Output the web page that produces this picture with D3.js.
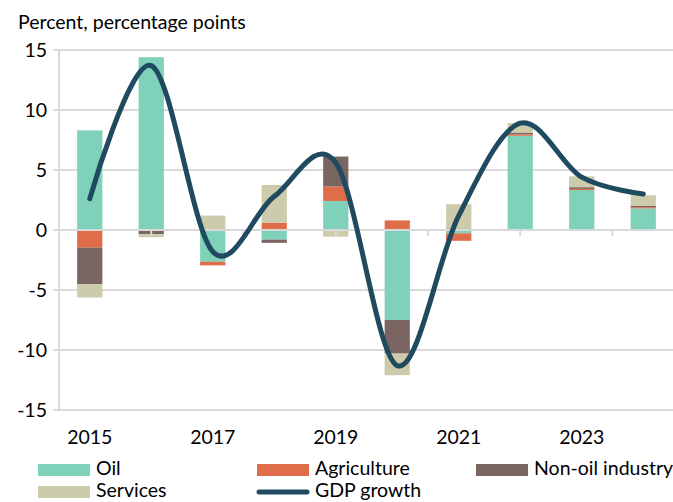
<!DOCTYPE html>
<html>
<head>
<meta charset="utf-8">
<script src="https://cdn.jsdelivr.net/npm/d3@7"></script>
<style>
  body { margin: 0; background: #fff; }
  svg { display: block; font-family: Lato, "Noto Sans", sans-serif; }
</style>
</head>
<body>
<svg width="673" height="502"></svg>
<script>
// Data
const years = ["2015", "2016", "2017", "2018", "2019", "2020", "2021", "2022", "2023", "2024"];
const oil = [8.3, 14.4, -2.65, -0.8, 2.42, -7.5, -0.28, 7.85, 3.33, 1.8];
const agriculture = [-1.47, 0, -0.3, 0.6, 1.2, 0.8, -0.62, 0.12, 0.1, 0.1];
const nonOil = [-3.05, -0.35, 0, -0.27, 2.5, -2.8, 0.12, 0.15, 0.14, 0.1];
const services = [-1.1, -0.25, 1.2, 3.15, -0.55, -1.8, 2.03, 0.8, 0.9, 0.9];
const gdpGrowth = [2.6, 13.7, -1.8, 2.8, 5.6, -11.3, 1.2, 8.9, 4.4, 3.0];
const yTicks = [-15, -10, -5, 0, 5, 10, 15];
const xLabels = ["2015", "2017", "2019", "2021", "2023"];

const seriesKeys = ["Oil", "Agriculture", "Non-oil industry", "Services"];
const colors = {
  "Oil": "#7fd1b9",
  "Agriculture": "#e06c4a",
  "Non-oil industry": "#7a6562",
  "Services": "#cccbab"
};
const lineColor = "#1f4a5f";
const gridColor = "#d9d9d9";
const fontSize = 19.5;

// Table for the stack
const table = years.map((year, i) => ({
  year: year,
  "Oil": oil[i],
  "Agriculture": agriculture[i],
  "Non-oil industry": nonOil[i],
  "Services": services[i]
}));

const svg = d3.select("svg");

const xScale = d3
  .scaleBand()
  .domain(years)
  .range([59, 674])
  .paddingInner(0.59)
  .paddingOuter(0.295);

const yScale = d3.scaleLinear().domain([-15, 15]).range([410, 50]);

// Title
svg
  .append("text")
  .attr("x", 18)
  .attr("y", 29)
  .attr("font-size", fontSize)
  .text("Percent, percentage points");

// Gridlines (zero line drawn later, on top of the bars)
svg
  .selectAll(".grid")
  .data(yTicks.filter(t => t !== 0))
  .enter()
  .append("line")
  .attr("x1", 53)
  .attr("x2", 673)
  .attr("y1", d => yScale(d))
  .attr("y2", d => yScale(d))
  .attr("stroke", gridColor)
  .attr("stroke-width", 2);

// Y axis line
svg
  .append("line")
  .attr("x1", 59)
  .attr("x2", 59)
  .attr("y1", yScale(15))
  .attr("y2", yScale(-15) + 1)
  .attr("stroke", gridColor)
  .attr("stroke-width", 2);

// Y tick labels
svg
  .selectAll(".ylabel")
  .data(yTicks)
  .enter()
  .append("text")
  .attr("x", 47)
  .attr("y", d => yScale(d))
  .attr("dy", "0.36em")
  .attr("text-anchor", "end")
  .attr("font-size", fontSize)
  .text(d => d);

// Stacked bars, positives up and negatives down
const stacked = d3
  .stack()
  .keys(seriesKeys)
  .offset(d3.stackOffsetDiverging)(table);

svg
  .selectAll(".series")
  .data(stacked)
  .enter()
  .append("g")
  .attr("fill", s => colors[s.key])
  .selectAll("rect")
  .data(s => s)
  .enter()
  .append("rect")
  .attr("x", d => xScale(d.data.year))
  .attr("width", xScale.bandwidth())
  .attr("y", d => yScale(Math.max(d[0], d[1])))
  .attr("height", d => Math.abs(yScale(d[0]) - yScale(d[1])));

// Zero line and its small ticks
svg
  .append("line")
  .attr("x1", 53)
  .attr("x2", 673)
  .attr("y1", yScale(0))
  .attr("y2", yScale(0))
  .attr("stroke", gridColor)
  .attr("stroke-width", 2);

const step = xScale.step();
svg
  .selectAll(".xtick")
  .data(d3.range(1, 7))
  .enter()
  .append("line")
  .attr("x1", k => 59 + k * 1.5 * step)
  .attr("x2", k => 59 + k * 1.5 * step)
  .attr("y1", yScale(0))
  .attr("y2", yScale(0) + 6)
  .attr("stroke", gridColor)
  .attr("stroke-width", 2);

// X labels
svg
  .selectAll(".xlabel")
  .data(xLabels)
  .enter()
  .append("text")
  .attr("x", d => xScale(d) + xScale.bandwidth() / 2)
  .attr("y", 444)
  .attr("text-anchor", "middle")
  .attr("font-size", fontSize)
  .text(d => d);

// GDP growth line
const line = d3
  .line()
  .x((d, i) => xScale(years[i]) + xScale.bandwidth() / 2)
  .y(d => yScale(d))
  .curve(d3.curveCatmullRom.alpha(0));

svg
  .append("path")
  .datum(gdpGrowth)
  .attr("d", line)
  .attr("fill", "none")
  .attr("stroke", lineColor)
  .attr("stroke-width", 5)
  .attr("stroke-linecap", "round");

// Legend
const legendItems = [
  { name: "Oil", x: 38, y: 470, type: "rect" },
  { name: "Agriculture", x: 257, y: 470, type: "rect" },
  { name: "Non-oil industry", x: 476, y: 470, type: "rect" },
  { name: "Services", x: 38, y: 492, type: "rect" },
  { name: "GDP growth", x: 257, y: 492, type: "line" }
];

const legend = svg
  .selectAll(".legend")
  .data(legendItems)
  .enter()
  .append("g");

legend
  .filter(d => d.type === "rect")
  .append("rect")
  .attr("x", d => d.x)
  .attr("y", d => d.y - 6)
  .attr("width", 52)
  .attr("height", 12)
  .attr("fill", d => colors[d.name]);

legend
  .filter(d => d.type === "line")
  .append("line")
  .attr("x1", d => d.x + 2)
  .attr("x2", d => d.x + 50)
  .attr("y1", d => d.y)
  .attr("y2", d => d.y)
  .attr("stroke", lineColor)
  .attr("stroke-width", 5)
  .attr("stroke-linecap", "round");

legend
  .append("text")
  .attr("x", d => d.x + 58)
  .attr("y", d => d.y + 5)
  .attr("font-size", fontSize)
  .text(d => d.name);
</script>
</body>
</html>
